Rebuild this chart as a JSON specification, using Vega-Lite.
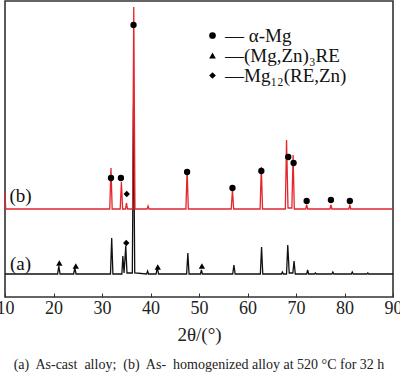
{
  "$schema": "https://vega.github.io/schema/vega-lite/v6.json",
  "width": 388,
  "height": 296,
  "autosize": "none",
  "padding": {"left": 5, "top": 1, "right": 7, "bottom": 77},
  "background": "white",
  "config": {
    "view": {"stroke": "#333", "strokeWidth": 1.6},
    "font": "Liberation Serif"
  },
  "title": {
    "text": "(a)\u00a0 As-cast\u00a0 alloy;\u00a0 (b)\u00a0 As-\u00a0 homogenized alloy at 520 °C for 32 h",
    "orient": "bottom",
    "anchor": "middle",
    "font": "Liberation Serif",
    "fontSize": 14,
    "fontWeight": "normal",
    "color": "#222",
    "offset": 14
  },
  "datasets": {
    "xrd": [
      {"s": "a", "x": 10, "y": 23},
      {"s": "a", "x": 20.85, "y": 23}, {"s": "a", "x": 21.1, "y": 31}, {"s": "a", "x": 21.35, "y": 23},
      {"s": "a", "x": 24.15, "y": 23}, {"s": "a", "x": 24.4, "y": 29}, {"s": "a", "x": 24.65, "y": 23},
      {"s": "a", "x": 31.75, "y": 23}, {"s": "a", "x": 32.0, "y": 59}, {"s": "a", "x": 32.25, "y": 23},
      {"s": "a", "x": 34.1, "y": 23}, {"s": "a", "x": 34.3, "y": 41}, {"s": "a", "x": 34.55, "y": 24},
      {"s": "a", "x": 34.9, "y": 51}, {"s": "a", "x": 35.15, "y": 24},
      {"s": "a", "x": 36.25, "y": 24}, {"s": "a", "x": 36.5, "y": 190}, {"s": "a", "x": 36.75, "y": 24},
      {"s": "a", "x": 39.2, "y": 23}, {"s": "a", "x": 39.4, "y": 26}, {"s": "a", "x": 39.6, "y": 23},
      {"s": "a", "x": 41.15, "y": 23}, {"s": "a", "x": 41.4, "y": 30}, {"s": "a", "x": 41.65, "y": 23},
      {"s": "a", "x": 47.45, "y": 23}, {"s": "a", "x": 47.7, "y": 44}, {"s": "a", "x": 47.95, "y": 23},
      {"s": "a", "x": 50.3, "y": 23}, {"s": "a", "x": 50.5, "y": 27}, {"s": "a", "x": 50.7, "y": 23},
      {"s": "a", "x": 56.95, "y": 23}, {"s": "a", "x": 57.2, "y": 32}, {"s": "a", "x": 57.45, "y": 23},
      {"s": "a", "x": 62.65, "y": 23}, {"s": "a", "x": 62.9, "y": 50}, {"s": "a", "x": 63.15, "y": 23},
      {"s": "a", "x": 67.0, "y": 23}, {"s": "a", "x": 67.2, "y": 25}, {"s": "a", "x": 67.4, "y": 23},
      {"s": "a", "x": 68.05, "y": 23}, {"s": "a", "x": 68.3, "y": 52}, {"s": "a", "x": 68.6, "y": 24},
      {"s": "a", "x": 69.35, "y": 24}, {"s": "a", "x": 69.6, "y": 36}, {"s": "a", "x": 69.85, "y": 23},
      {"s": "a", "x": 72.2, "y": 23}, {"s": "a", "x": 72.4, "y": 27}, {"s": "a", "x": 72.6, "y": 23},
      {"s": "a", "x": 73.8, "y": 23}, {"s": "a", "x": 74.0, "y": 24}, {"s": "a", "x": 74.2, "y": 23},
      {"s": "a", "x": 77.4, "y": 23}, {"s": "a", "x": 77.6, "y": 25}, {"s": "a", "x": 77.8, "y": 23},
      {"s": "a", "x": 81.4, "y": 23}, {"s": "a", "x": 81.6, "y": 25}, {"s": "a", "x": 81.8, "y": 23},
      {"s": "a", "x": 84.6, "y": 23}, {"s": "a", "x": 84.8, "y": 24}, {"s": "a", "x": 85.0, "y": 23},
      {"s": "a", "x": 90, "y": 23},
      {"s": "b", "x": 10, "y": 104},
      {"s": "b", "x": 10.15, "y": 88},
      {"s": "b", "x": 31.6, "y": 88}, {"s": "b", "x": 31.85, "y": 129}, {"s": "b", "x": 32.1, "y": 88},
      {"s": "b", "x": 33.75, "y": 88}, {"s": "b", "x": 34.0, "y": 115}, {"s": "b", "x": 34.25, "y": 88},
      {"s": "b", "x": 34.85, "y": 88}, {"s": "b", "x": 35.05, "y": 94}, {"s": "b", "x": 35.25, "y": 88},
      {"s": "b", "x": 36.3, "y": 88}, {"s": "b", "x": 36.55, "y": 290}, {"s": "b", "x": 36.8, "y": 88},
      {"s": "b", "x": 39.3, "y": 88}, {"s": "b", "x": 39.5, "y": 91}, {"s": "b", "x": 39.7, "y": 88},
      {"s": "b", "x": 47.3, "y": 88}, {"s": "b", "x": 47.55, "y": 127}, {"s": "b", "x": 47.8, "y": 88},
      {"s": "b", "x": 56.65, "y": 88}, {"s": "b", "x": 56.9, "y": 107}, {"s": "b", "x": 57.15, "y": 88},
      {"s": "b", "x": 62.6, "y": 88}, {"s": "b", "x": 62.85, "y": 130}, {"s": "b", "x": 63.1, "y": 88},
      {"s": "b", "x": 67.8, "y": 88}, {"s": "b", "x": 68.05, "y": 157}, {"s": "b", "x": 68.35, "y": 89},
      {"s": "b", "x": 69.15, "y": 89}, {"s": "b", "x": 69.4, "y": 142}, {"s": "b", "x": 69.65, "y": 88},
      {"s": "b", "x": 72.0, "y": 88}, {"s": "b", "x": 72.2, "y": 92}, {"s": "b", "x": 72.4, "y": 88},
      {"s": "b", "x": 77.0, "y": 88}, {"s": "b", "x": 77.2, "y": 92}, {"s": "b", "x": 77.4, "y": 88},
      {"s": "b", "x": 80.9, "y": 88}, {"s": "b", "x": 81.1, "y": 92}, {"s": "b", "x": 81.3, "y": 88},
      {"s": "b", "x": 90, "y": 88}
    ],
    "marks": [
      {"phase": "α-Mg", "x": 31.85, "y": 119},
      {"phase": "α-Mg", "x": 33.9, "y": 119},
      {"phase": "α-Mg", "x": 36.5, "y": 272},
      {"phase": "α-Mg", "x": 47.55, "y": 125},
      {"phase": "α-Mg", "x": 56.9, "y": 109},
      {"phase": "α-Mg", "x": 62.85, "y": 126},
      {"phase": "α-Mg", "x": 68.4, "y": 140},
      {"phase": "α-Mg", "x": 69.5, "y": 134},
      {"phase": "α-Mg", "x": 72.2, "y": 96},
      {"phase": "α-Mg", "x": 77.2, "y": 97},
      {"phase": "α-Mg", "x": 81.1, "y": 96},
      {"phase": "(Mg,Zn)₃RE", "x": 21.2, "y": 34},
      {"phase": "(Mg,Zn)₃RE", "x": 24.6, "y": 31},
      {"phase": "(Mg,Zn)₃RE", "x": 41.5, "y": 30},
      {"phase": "(Mg,Zn)₃RE", "x": 50.6, "y": 31},
      {"phase": "Mg₁₂(RE,Zn)", "x": 35.1, "y": 103},
      {"phase": "Mg₁₂(RE,Zn)", "x": 35.0, "y": 54}
    ],
    "labels": [
      {"label": "(b)", "x": 13.2, "y": 101},
      {"label": "(a)", "x": 13.2, "y": 33}
    ]
  },
  "layer": [
    {
      "data": {"name": "xrd"},
      "mark": {"type": "line", "strokeWidth": 1.3, "interpolate": "linear"},
      "encoding": {
        "x": {
          "field": "x", "type": "quantitative",
          "scale": {"domain": [10, 90], "nice": false, "zero": false},
          "axis": {
            "values": [10, 20, 30, 40, 50, 60, 70, 80, 90],
            "grid": false,
            "domain": false,
            "tickSize": -4,
            "tickColor": "#333",
            "tickWidth": 1,
            "labelFont": "Liberation Serif",
            "labelFontSize": 18,
            "labelColor": "#222",
            "labelPadding": 6,
            "labelFlush": false,
            "title": "2θ/(°)",
            "titleFont": "Liberation Serif",
            "titleFontSize": 19,
            "titleFontWeight": "normal",
            "titleColor": "#222",
            "titlePadding": 8
          }
        },
        "y": {
          "field": "y", "type": "quantitative",
          "scale": {"domain": [0, 296], "nice": false, "zero": false},
          "axis": null
        },
        "color": {
          "field": "s", "type": "nominal",
          "scale": {"domain": ["a", "b"], "range": ["#111111", "#e3262b"]},
          "legend": null
        },
        "detail": {"field": "s"}
      }
    },
    {
      "data": {"name": "marks"},
      "mark": {"type": "point", "filled": true, "opacity": 1, "color": "#000", "size": 40},
      "encoding": {
        "x": {"field": "x", "type": "quantitative"},
        "y": {"field": "y", "type": "quantitative"},
        "shape": {
          "field": "phase", "type": "nominal",
          "scale": {"domain": ["α-Mg", "(Mg,Zn)₃RE", "Mg₁₂(RE,Zn)"], "range": ["circle", "triangle-up", "diamond"]},
          "legend": {
            "title": null,
            "orient": "none",
            "legendX": 198,
            "legendY": 25,
            "symbolSize": 45,
            "symbolFillColor": "#000",
            "symbolStrokeColor": "#000",
            "labelFont": "Liberation Serif",
            "labelFontSize": 19,
            "labelColor": "#111",
            "labelOffset": 3,
            "rowPadding": 0,
            "labelExpr": "datum.label == 'α-Mg' ? '— α-Mg' : '—' + datum.label"
          }
        }
      }
    },
    {
      "data": {"name": "labels"},
      "mark": {"type": "text", "font": "Liberation Serif", "fontSize": 19, "color": "#111", "baseline": "middle", "align": "center"},
      "encoding": {
        "x": {"field": "x", "type": "quantitative"},
        "y": {"field": "y", "type": "quantitative"},
        "text": {"field": "label"}
      }
    }
  ]
}
